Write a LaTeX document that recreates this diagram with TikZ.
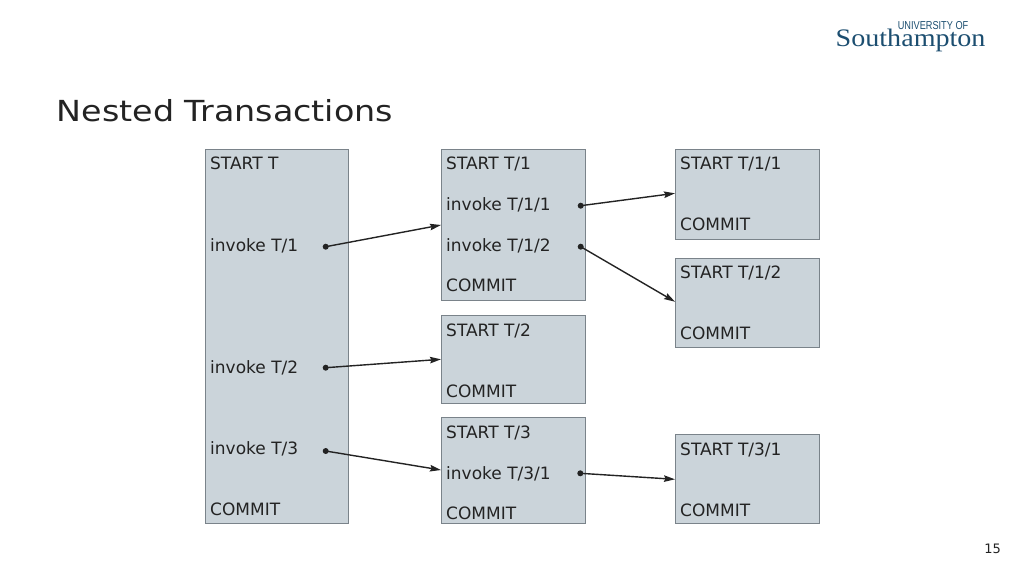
\documentclass[tikz,border=0pt]{standalone}
\usepackage{fontspec}
\usepackage{graphicx}
\setmainfont{DejaVu Sans}
\newfontfamily\logoserif{Liberation Serif}
\newfontfamily\logosans{Liberation Sans}
\usetikzlibrary{arrows.meta}
\definecolor{boxfill}{RGB}{203,212,218}
\definecolor{boxline}{RGB}{122,131,138}
\definecolor{txt}{RGB}{35,35,35}
\definecolor{logoblue}{RGB}{28,78,112}
\tikzset{
  tbox/.style={draw=boxline, fill=boxfill, line width=1.2pt, rectangle, anchor=north west, inner sep=0pt},
  lbl/.style={anchor=base west, inner sep=0pt, text=txt, font=\fontsize{17}{20}\selectfont},
  dotnode/.style={circle, fill=txt, inner sep=0pt, minimum size=6pt},
  arr/.style={draw=txt, line width=1.4pt, -{Stealth[length=11pt,width=6.5pt,inset=1.5pt]}}
}
\begin{document}
\begin{tikzpicture}[x=1pt,y=-1pt]
\useasboundingbox (0,0) rectangle (1024,576);
% logo and title
\node[anchor=base east, inner sep=0pt, text=logoblue] (logo) at (985.7,46.7)
  {\scalebox{1.08}[0.97]{\logoserif\fontsize{26}{26}\selectfont Southampton}};
\node[anchor=base east, inner sep=0pt, text=logoblue] (logotop) at (968.5,29.3)
  {\scalebox{0.8}[1]{\logosans\fontsize{11.5}{12}\selectfont UNIVERSITY OF}};
\node[anchor=base west, inner sep=0pt, text=txt] (title) at (56.5,121.7) {\scalebox{1.15}[1]{\fontsize{29}{32}\selectfont Nested Transactions}};
\node[anchor=base east, inner sep=0pt, text=txt] (page) at (1001,553.3) {\fontsize{13}{15}\selectfont 15};
% boxes
\node[tbox, minimum width=143pt, minimum height=374pt] (T) at (205,149) {};
\node[tbox, minimum width=144pt, minimum height=151pt] (T1) at (441,149) {};
\node[tbox, minimum width=144pt, minimum height=88pt] (T2) at (441,315) {};
\node[tbox, minimum width=144pt, minimum height=106pt] (T3) at (441,417) {};
\node[tbox, minimum width=144pt, minimum height=90pt] (T11) at (675,149) {};
\node[tbox, minimum width=144pt, minimum height=89pt] (T12) at (675,258) {};
\node[tbox, minimum width=144pt, minimum height=89pt] (T31) at (675,434) {};
% texts
\node[lbl] (tS) at (210,169) {START T};
\node[lbl] (tI1) at (210,251) {invoke T/1};
\node[lbl] (tI2) at (210,373) {invoke T/2};
\node[lbl] (tI3) at (210,454) {invoke T/3};
\node[lbl] (tC) at (210,515) {COMMIT};
\node[lbl] (t1S) at (446,169) {START T/1};
\node[lbl] (t1I1) at (446,210.5) {invoke T/1/1};
\node[lbl] (t1I2) at (446,251) {invoke T/1/2};
\node[lbl] (t1C) at (446,291) {COMMIT};
\node[lbl] (t2S) at (446,336) {START T/2};
\node[lbl] (t2C) at (446,397) {COMMIT};
\node[lbl] (t3S) at (446,438) {START T/3};
\node[lbl] (t3I1) at (446,479) {invoke T/3/1};
\node[lbl] (t3C) at (446,519) {COMMIT};
\node[lbl] (t11S) at (680,169) {START T/1/1};
\node[lbl] (t11C) at (680,230) {COMMIT};
\node[lbl] (t12S) at (680,278) {START T/1/2};
\node[lbl] (t12C) at (680,339) {COMMIT};
\node[lbl] (t31S) at (680,455) {START T/3/1};
\node[lbl] (t31C) at (680,516) {COMMIT};
% dots
\node[dotnode] (dT1) at (325.7,246.7) {};
\node[dotnode] (dT2) at (325.7,367.7) {};
\node[dotnode] (dT3) at (325.7,451) {};
\node[dotnode] (dT11) at (580.7,205.7) {};
\node[dotnode] (dT12) at (580.7,246.7) {};
\node[dotnode] (dT31) at (580.3,473.3) {};
% arrow ends
\coordinate (eT1) at (441,225);
\coordinate (eT2) at (441,359.3);
\coordinate (eT3) at (441,470);
\coordinate (eT11) at (675,193.3);
\coordinate (eT12) at (675,301.7);
\coordinate (eT31) at (675,479.3);
% connectors
\draw[arr] (dT1.center) -- (eT1);
\draw[arr] (dT2.center) -- (eT2);
\draw[arr] (dT3.center) -- (eT3);
\draw[arr] (dT11.center) -- (eT11);
\draw[arr] (dT12.center) -- (eT12);
\draw[arr] (dT31.center) -- (eT31);
\end{tikzpicture}
\end{document}
